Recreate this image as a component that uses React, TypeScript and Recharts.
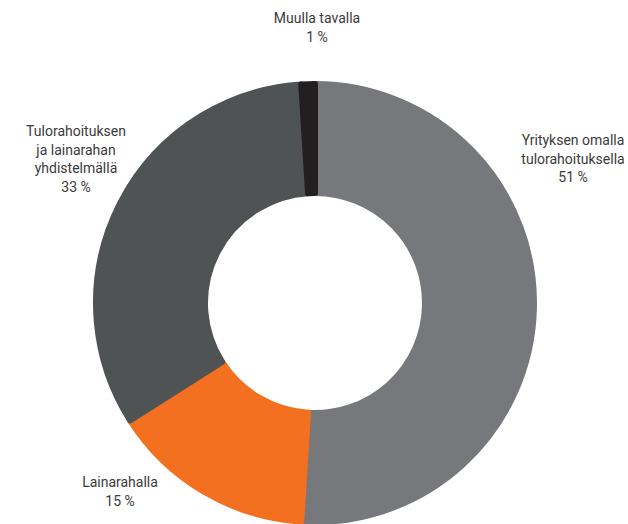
import React from 'react';
import { PieChart, Pie, Cell } from 'recharts';

// Miten yritys rahoittaa toimintansa
const categories = [
  'Yrityksen omalla tulorahoituksella',
  'Lainarahalla',
  'Tulorahoituksen ja lainarahan yhdistelmällä',
  'Muulla tavalla',
];
const shares = [51, 15, 33, 1];
const labelLines = [
  ['Yrityksen omalla', 'tulorahoituksella'],
  ['Lainarahalla'],
  ['Tulorahoituksen', 'ja lainarahan', 'yhdistelmällä'],
  ['Muulla tavalla'],
];

const colors = ['#76787b', '#f37021', '#505354', '#231f20'];

// label anchor (centre x, first baseline y) relative to pie centre
const labelOffsets = [
  { dx: 258, dy: -158 },
  { dx: -195, dy: 184 },
  { dx: -239, dy: -167 },
  { dx: 2, dy: -280 },
];

const data = categories.map((name, i) => ({ name, value: shares[i] }));

const CX = 315;
const CY = 303;
const LINE_H = 18.6;

const renderLabel = (props: any) => {
  const { index } = props;
  const off = labelOffsets[index];
  const lines = [...labelLines[index], `${shares[index]} %`];
  const x = CX + off.dx;
  const y = CY + off.dy;
  return (
    <text
      key={`lbl-${index}`}
      x={x}
      y={y}
      textAnchor="middle"
      fill="#3a3a3a"
      fontSize={14}
      fontFamily="Roboto, sans-serif"
    >
      {lines.map((l, j) => (
        <tspan key={j} x={x} y={y + j * LINE_H}>
          {l}
        </tspan>
      ))}
    </text>
  );
};

const App: React.FC = () => {
  return (
    <div style={{ position: 'fixed', left: 0, top: 0, width: 628, height: 524, background: '#fff' }}>
      <PieChart width={628} height={524} margin={{ top: 0, right: 0, bottom: 0, left: 0 }}>
        <Pie
          data={data}
          dataKey="value"
          nameKey="name"
          cx={CX}
          cy={CY}
          innerRadius={110}
          outerRadius={219}
          startAngle={90}
          endAngle={-270}
          label={renderLabel}
          labelLine={false}
          isAnimationActive={false}
        >
          {data.map((d, i) => (
            <Cell key={d.name} fill={colors[i]} stroke={colors[i]} strokeWidth={6} strokeLinejoin="round" />
          ))}
        </Pie>
      </PieChart>
    </div>
  );
};

export default App;
